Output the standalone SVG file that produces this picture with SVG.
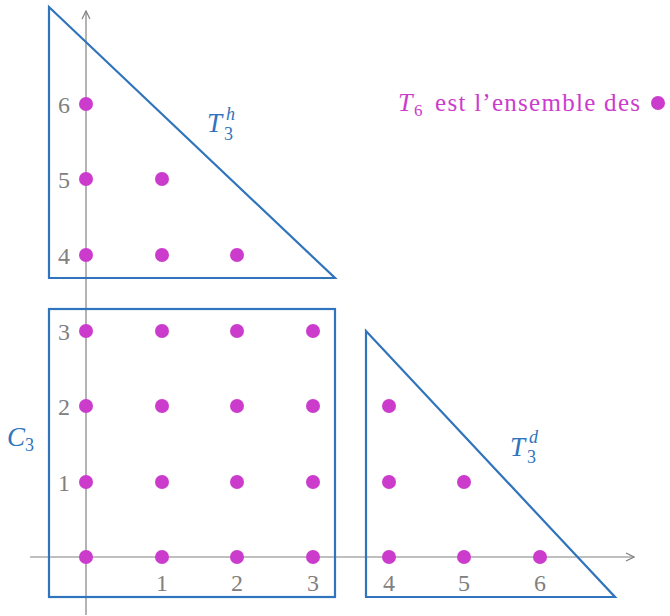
<svg xmlns="http://www.w3.org/2000/svg" width="670" height="616" viewBox="0 0 670 616">
<defs>
<style>
.ax{stroke:#808080;stroke-width:1.2;fill:none}
.sh{stroke:#2f74bc;stroke-width:2.2;fill:none;stroke-linejoin:miter}
.dot{fill:#cc3ccc}
.tk{font-family:"Liberation Serif",serif;font-size:24px;fill:#808080}
.lb{font-family:"Liberation Serif",serif;font-size:27px;fill:#2f74bc;font-style:italic}
.lbs{font-family:"Liberation Serif",serif;font-size:18px;fill:#2f74bc}
.mg{font-family:"Liberation Serif",serif;fill:#cc3ccc}
</style>
<marker id="ar" viewBox="0 0 10 10" refX="9" refY="5" markerWidth="10" markerHeight="10" markerUnits="userSpaceOnUse" orient="auto">
<path d="M1,1 L9,5 L1,9" fill="none" stroke="#808080" stroke-width="1.2"/>
</marker>
</defs>
<g id="connectors">
<line class="ax" x1="30" y1="557" x2="634" y2="557" marker-end="url(#ar)"/>
<line class="ax" x1="86" y1="615" x2="86" y2="11" marker-end="url(#ar)"/>
</g>
<g id="T3h">
<polygon class="sh" points="49,7 49,278 335,278"/>
<text class="lb" x="207" y="132">T</text>
<text class="lbs" x="226" y="120" style="font-style:italic">h</text>
<text class="lbs" x="224" y="140">3</text>
</g>
<g id="C3">
<rect class="sh" x="49" y="309" width="286" height="288"/>
<text class="lb" x="7" y="446">C</text>
<text class="lbs" x="25" y="451">3</text>
</g>
<g id="T3d">
<polygon class="sh" points="366,331 366,597 615,597"/>
<text class="lb" x="510" y="456">T</text>
<text class="lbs" x="529" y="443" style="font-style:italic">d</text>
<text class="lbs" x="527" y="463">3</text>
</g>
<g id="ticks">
<text class="tk" x="162" y="591" text-anchor="middle">1</text>
<text class="tk" x="237" y="591" text-anchor="middle">2</text>
<text class="tk" x="313" y="591" text-anchor="middle">3</text>
<text class="tk" x="389" y="591" text-anchor="middle">4</text>
<text class="tk" x="464" y="591" text-anchor="middle">5</text>
<text class="tk" x="540" y="591" text-anchor="middle">6</text>
<text class="tk" x="70" y="491" text-anchor="end">1</text>
<text class="tk" x="70" y="415" text-anchor="end">2</text>
<text class="tk" x="70" y="340" text-anchor="end">3</text>
<text class="tk" x="70" y="264" text-anchor="end">4</text>
<text class="tk" x="70" y="188" text-anchor="end">5</text>
<text class="tk" x="70" y="113" text-anchor="end">6</text>
</g>
<g id="dots">
<circle class="dot" cx="86" cy="557" r="7"/><circle class="dot" cx="162" cy="557" r="7"/><circle class="dot" cx="237" cy="557" r="7"/><circle class="dot" cx="313" cy="557" r="7"/><circle class="dot" cx="389" cy="557" r="7"/><circle class="dot" cx="464" cy="557" r="7"/><circle class="dot" cx="540" cy="557" r="7"/>
<circle class="dot" cx="86" cy="482" r="7"/><circle class="dot" cx="162" cy="482" r="7"/><circle class="dot" cx="237" cy="482" r="7"/><circle class="dot" cx="313" cy="482" r="7"/><circle class="dot" cx="389" cy="482" r="7"/><circle class="dot" cx="464" cy="482" r="7"/>
<circle class="dot" cx="86" cy="406" r="7"/><circle class="dot" cx="162" cy="406" r="7"/><circle class="dot" cx="237" cy="406" r="7"/><circle class="dot" cx="313" cy="406" r="7"/><circle class="dot" cx="389" cy="406" r="7"/>
<circle class="dot" cx="86" cy="331" r="7"/><circle class="dot" cx="162" cy="331" r="7"/><circle class="dot" cx="237" cy="331" r="7"/><circle class="dot" cx="313" cy="331" r="7"/>
<circle class="dot" cx="86" cy="255" r="7"/><circle class="dot" cx="162" cy="255" r="7"/><circle class="dot" cx="237" cy="255" r="7"/>
<circle class="dot" cx="86" cy="179" r="7"/><circle class="dot" cx="162" cy="179" r="7"/>
<circle class="dot" cx="86" cy="104" r="7"/>
</g>
<g id="legend">
<text class="mg" x="398" y="111" style="font-style:italic;font-size:26px">T</text>
<text class="mg" x="414" y="116" style="font-size:17px">6</text>
<text class="mg" x="435" y="111" style="font-size:25px" textLength="205" lengthAdjust="spacing">est l’ensemble des</text>
<circle class="dot" cx="658" cy="103" r="7"/>
</g>
</svg>
